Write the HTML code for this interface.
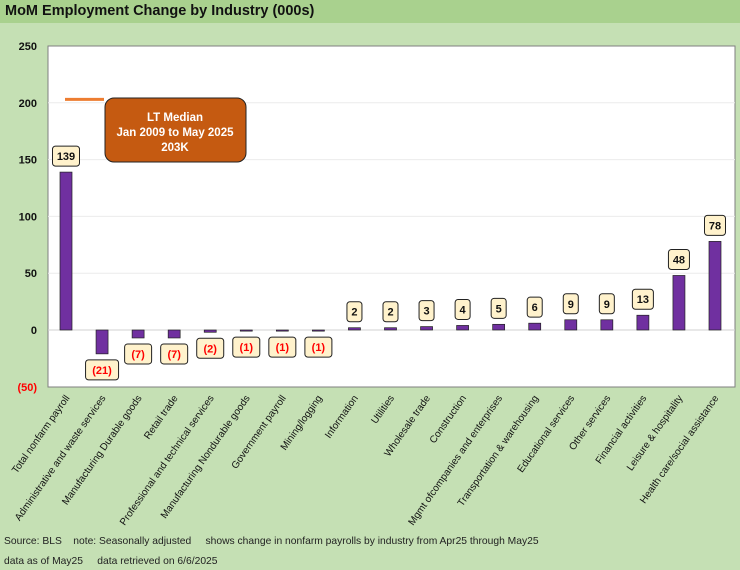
<!DOCTYPE html>
<html><head><meta charset="utf-8"><style>
body{margin:0;width:740px;height:570px;background:#c5e0b4;font-family:"Liberation Sans",sans-serif;overflow:hidden;position:relative}
#title{position:absolute;left:0;top:0;width:740px;height:23px;background:#a9d18e;font-weight:bold;font-size:14.5px;line-height:23px;padding-left:5px;box-sizing:border-box;color:#111}
.foot{position:absolute;left:4px;font-size:10.3px;color:#222}
</style></head><body>
<div id="title">MoM Employment Change by Industry (000s)</div>
<svg id="chart" width="740" height="530" style="position:absolute;left:0;top:23px"></svg>
<div class="foot" style="top:536px">Source: BLS &nbsp;&nbsp; note: Seasonally adjusted &nbsp;&nbsp;&nbsp; shows change in nonfarm payrolls by industry from Apr25 through May25</div>
<div class="foot" style="top:556px">data as of May25 &nbsp;&nbsp;&nbsp; data retrieved on 6/6/2025</div>
<script>
const categories=["Total nonfarm payroll","Administrative and waste services","Manufacturing Durable goods","Retail trade","Professional and technical services","Manufacturing Nondurable goods","Government payroll","Mining/logging","Information","Utilities","Wholesale trade","Construction","Mgmt ofcompanies and enterprises","Transportation & warehousing","Educational services","Other services","Financial activities","Leisure & hospitality","Health care/social assistance"];
const values=[139,-21,-7,-7,-2,-1,-1,-1,2,2,3,4,5,6,9,9,13,48,78];
const valueLabels=["139","(21)","(7)","(7)","(2)","(1)","(1)","(1)","2","2","3","4","5","6","9","9","13","48","78"];
const yTicks=[250,200,150,100,50,0,-50];
const yTickLabels=["250","200","150","100","50","0","(50)"];
const median=[203];
const NS="http://www.w3.org/2000/svg";
const svg=document.getElementById('chart');
const OY=-23;
const plotL=48,plotR=735,yTop=46+OY,yBot=387+OY;
function y(v){return 330+OY-v*(284/250);}
function x(i){return 66+i*(715-66)/(categories.length-1);}
function mk(t,a,txt){const e=document.createElementNS(NS,t);for(const k in a)e.setAttribute(k,a[k]);if(txt!=null)e.textContent=txt;svg.appendChild(e);return e;}
let e=mk('rect',{x:plotL,y:yTop,width:plotR-plotL,height:yBot-yTop,fill:'#fff',stroke:'#7f7f7f','stroke-width':1});


yTicks.forEach((t,i)=>{
 if(t!==0&&t!==-50&&t!==250){let g=mk('line',{x1:plotL,x2:plotR,y1:y(t),y2:y(t),stroke:'#ececec'});}
 let l=mk('text',{x:37,y:y(t)+4,'text-anchor':'end','font-size':11,'font-weight':'bold',fill:t<0?'#ff0000':'#111'},yTickLabels[i]);
 
 
});
e=mk('line',{x1:plotL,x2:plotR,y1:y(0),y2:y(0),stroke:'#d0d0d0'});


e=mk('line',{x1:65,x2:104,y1:y(median[0]),y2:y(median[0]),stroke:'#ed7d31','stroke-width':3});


e=mk('rect',{x:105,y:98+OY,width:141,height:64,rx:9,fill:'#c55a11',stroke:'#222','stroke-width':1});


["LT Median","Jan 2009 to May 2025","203K"].forEach((s,k)=>{let t=mk('text',{x:175,y:121+OY+k*15,'text-anchor':'middle','font-size':11.5,'font-weight':'bold',fill:'#fff'},s);});
categories.forEach((c,i)=>{
 const v=values[i],cx=x(i),y0=y(0),y1=y(v);
 let b=mk('rect',{x:cx-6,y:Math.min(y0,y1),width:12,height:Math.max(1,Math.abs(y1-y0)),fill:'#7030a0',stroke:'#222','stroke-width':0.7});
 
 
 const lbl=valueLabels[i],w=lbl.length*6+9,h=20;
 const by=v>=0?y1-6-h:y1+6;
 let r=mk('rect',{x:cx-w/2,y:by,width:w,height:h,rx:3,fill:'#fff2cc',stroke:'#222','stroke-width':1});
 
 
 let t=mk('text',{x:cx,y:by+14,'text-anchor':'middle','font-size':11,'font-weight':'bold',fill:v<0?'#ff0000':'#111'},lbl);
 
 
 let cl=mk('text',{x:cx+4,y:398+OY,'text-anchor':'end','font-size':10,fill:'#111',transform:`rotate(-55 ${cx+4} ${398+OY})`},c);
 
 
});
</script>
</body></html>
